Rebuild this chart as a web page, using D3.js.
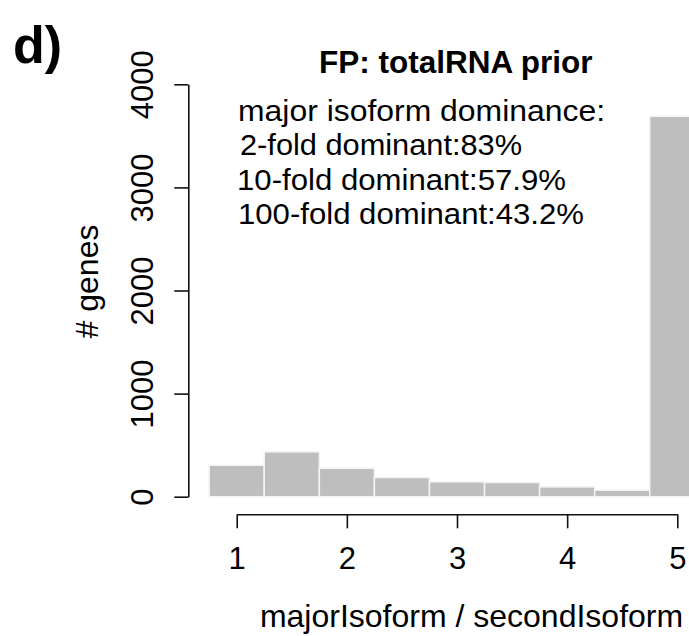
<!DOCTYPE html>
<html>
<head>
<meta charset="utf-8">
<script src="https://d3js.org/d3.v7.min.js"></script>
<style>
  html, body { margin: 0; padding: 0; background: #fff; }
  svg { display: block; }
  text { font-family: "Liberation Sans", Arial, Helvetica, sans-serif; fill: #000; }
</style>
</head>
<body>
<svg id="chart" width="689" height="636"></svg>
<script>
// ---- data ----
const binStarts = [0.75, 1.25, 1.75, 2.25, 2.75, 3.25, 3.75, 4.25, 4.75];
const binEnds   = [1.25, 1.75, 2.25, 2.75, 3.25, 3.75, 4.25, 4.75, 5.25];
const counts    = [305, 435, 276, 186, 144, 138, 95, 63, 3690];
const xTicks = [1, 2, 3, 4, 5];
const yTicks = [0, 1000, 2000, 3000, 4000];
const panelLabel = "d)";
const title = "FP: totalRNA prior";
const xLabel = "majorIsoform / secondIsoform";
const yLabel = "# genes";
const annotationLines = [
  "major isoform dominance:",
  "2-fold dominant:83%",
  "10-fold dominant:57.9%",
  "100-fold dominant:43.2%"
];

// ---- layout ----
const svg = d3.select("#chart");
const FS = 31;
const x = d3.scaleLinear().domain([1, 5]).range([236.7, 677.3]);
const y = d3.scaleLinear().domain([0, 4000]).range([496.7, 84.3]);

const bins = counts.map((c, i) => ({ x0: binStarts[i], x1: binEnds[i], n: c }));

// bars
svg.append("g").selectAll("rect").data(bins).join("rect")
  .attr("x", d => x(d.x0))
  .attr("y", d => y(d.n))
  .attr("width", d => x(d.x1) - x(d.x0))
  .attr("height", d => y(0) - y(d.n))
  .attr("fill", "#bebebe")
  .attr("stroke", "#f4f4f4")
  .attr("stroke-width", 1.5);

// x axis
const xAxis = svg.append("g")
  .attr("transform", "translate(0,514.3)")
  .call(d3.axisBottom(x).tickValues(xTicks).tickFormat(d3.format("d"))
        .tickSize(14).tickSizeOuter(0).tickPadding(19));
xAxis.select(".domain").attr("stroke", "#111").attr("stroke-width", 1.6);
xAxis.selectAll(".tick line").attr("stroke", "#111").attr("stroke-width", 1.6);
xAxis.selectAll(".tick text").attr("font-size", FS)
  .style("font-family", "Liberation Sans, Arial, sans-serif").attr("fill", "#000");

// y axis
const yAxis = svg.append("g")
  .attr("transform", "translate(188.3,0)")
  .call(d3.axisLeft(y).tickValues(yTicks).tickFormat(d3.format("d"))
        .tickSize(14).tickSizeOuter(0));
yAxis.select(".domain").attr("stroke", "#111").attr("stroke-width", 1.6);
yAxis.selectAll(".tick line").attr("stroke", "#111").attr("stroke-width", 1.6);
yAxis.selectAll(".tick text")
  .attr("font-size", FS)
  .style("font-family", "Liberation Sans, Arial, sans-serif")
  .attr("fill", "#000")
  .attr("transform", "rotate(-90)")
  .attr("x", 0).attr("y", -35).attr("dy", 0)
  .attr("text-anchor", "middle");

// panel label
svg.append("text").attr("x", 13).attr("y", 63)
  .attr("font-size", 52).attr("font-weight", "bold").text(panelLabel);

// title
svg.append("text").attr("x", 455.8).attr("y", 73)
  .attr("text-anchor", "middle").attr("font-size", 31.5).attr("font-weight", "bold")
  .text(title);

// annotations
const annX = [238, 240, 237, 238];
const annY = [121, 155, 190, 224];
const annW = [367, 282, 329, 346];
svg.append("g").selectAll("text").data(annotationLines).join("text")
  .attr("x", (d, i) => annX[i]).attr("y", (d, i) => annY[i])
  .attr("font-size", 29.8)
  .attr("textLength", (d, i) => annW[i])
  .attr("lengthAdjust", "spacingAndGlyphs")
  .text(d => d);

// x label
svg.append("text").attr("x", 471.5).attr("y", 627)
  .attr("text-anchor", "middle").attr("font-size", FS + 1).text(xLabel);

// y label
svg.append("text")
  .attr("transform", "translate(97.5,281.5) rotate(-90)")
  .attr("text-anchor", "middle").attr("font-size", FS + 1).text(yLabel);
</script>
</body>
</html>
